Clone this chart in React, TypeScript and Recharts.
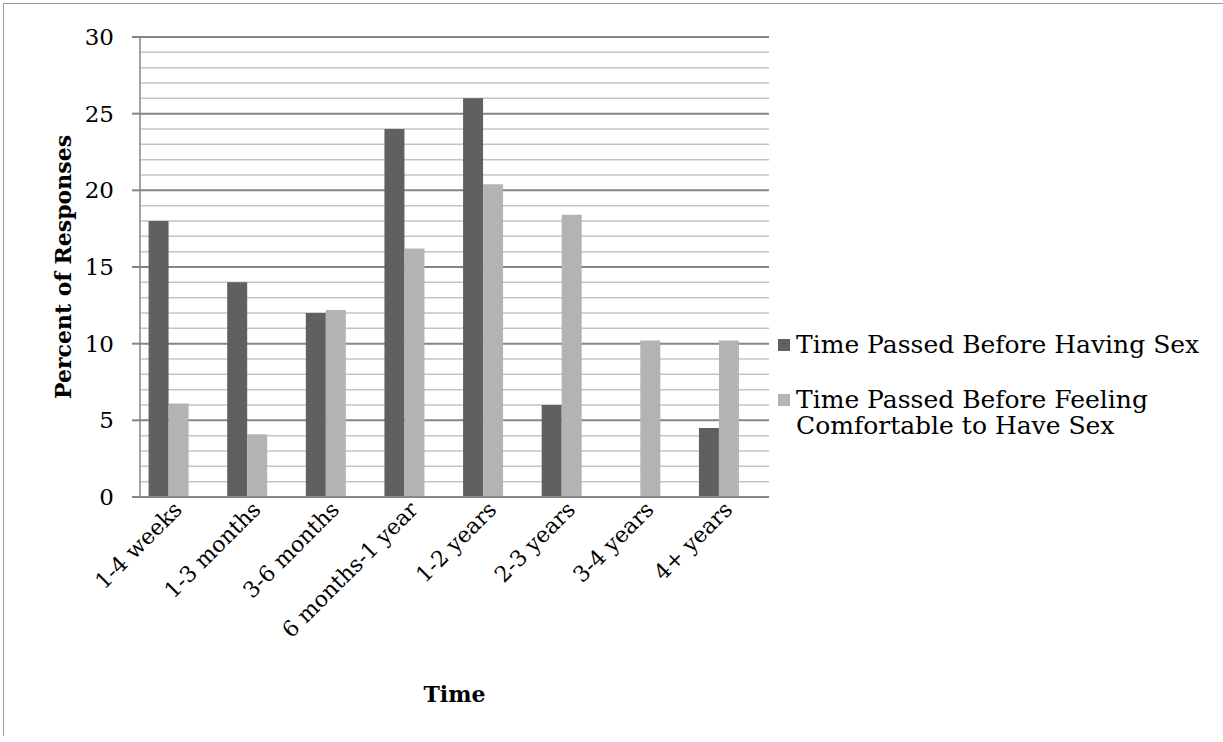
import { Bar, BarChart, CartesianGrid, Label, Legend, XAxis, YAxis } from "recharts";

const categories = [
  "1-4 weeks",
  "1-3 months",
  "3-6 months",
  "6 months-1 year",
  "1-2 years",
  "2-3 years",
  "3-4 years",
  "4+ years",
];
const havingSex = [18, 14, 12, 24, 26, 6, 0, 4.5];
const comfortable = [6.1, 4.1, 12.2, 16.2, 20.4, 18.4, 10.2, 10.2];
const majorTicks = [0, 5, 10, 15, 20, 25, 30];
const minorTicks = [
  1, 2, 3, 4, 6, 7, 8, 9, 11, 12, 13, 14, 16, 17, 18, 19, 21, 22, 23, 24, 26,
  27, 28, 29,
];
const yMax = 30;

const seriesNames = [
  "Time Passed Before Having Sex",
  "Time Passed Before Feeling Comfortable to Have Sex",
];
const colors = ["#606060", "#b3b3b3"];

const data = categories.map((name, i) => ({
  name,
  having: havingSex[i],
  comfortable: comfortable[i],
}));

const font = "'DejaVu Serif', serif";

const CategoryTick = (props: any) => {
  const { x, y, payload } = props;
  return (
    <g transform={`translate(${x + 4},${y + 14}) rotate(-45)`}>
      <text x={0} y={0} textAnchor="end" fontSize={22} fontFamily={font} fill="#000">
        {payload.value}
      </text>
    </g>
  );
};

const renderLegend = () => (
  <div style={{ fontFamily: font, fontSize: 25, lineHeight: "26px", color: "#000" }}>
    {seriesNames.map((name, i) => (
      <div key={name} style={{ display: "flex", marginBottom: 29 }}>
        <div
          style={{
            width: 12,
            height: 12,
            marginTop: 7,
            marginRight: 6,
            backgroundColor: colors[i],
            flexShrink: 0,
          }}
        />
        <div style={{ width: 420 }}>{name}</div>
      </div>
    ))}
  </div>
);

const YTitle = (props: any) => {
  const { viewBox } = props;
  const cx = viewBox.x + 71;
  const cy = viewBox.y + viewBox.height / 2;
  return (
    <text
      x={cx}
      y={cy}
      transform={`rotate(-90, ${cx}, ${cy})`}
      textAnchor="middle"
      fontSize={22}
      fontWeight="bold"
      fontFamily={font}
      fill="#000"
    >
      Percent of Responses
    </text>
  );
};

// minor gridlines every 1 unit (linear 0..yMax over the plot height)
const minorLines = ({ yAxis, offset }: any) => {
  if (yAxis && typeof yAxis.scale === "function") {
    return minorTicks.map((v) => yAxis.scale(v));
  }
  return minorTicks.map((v) => offset.top + offset.height * (1 - v / yMax));
};

export default function App() {
  return (
    <div style={{ position: "absolute", left: 0, top: 0, width: 1223, height: 742, background: "#fff" }}>
      <div
        style={{
          position: "absolute",
          left: 3,
          top: 3,
          width: 1220,
          height: 732,
          borderTop: "1px solid #9a9a9a",
          borderLeft: "1px solid #9a9a9a",
        }}
      />
      <BarChart
        width={1223}
        height={742}
        data={data}
        margin={{ top: 37, right: 454, left: 0, bottom: 0 }}
        barCategoryGap="10.9%"
        barGap={0}
      >
        <CartesianGrid
          vertical={false}
          stroke="#c4c4c4"
          strokeWidth={1.5}
          horizontalCoordinatesGenerator={minorLines}
        />
        <CartesianGrid vertical={false} stroke="#858585" strokeWidth={2} />
        <XAxis
          dataKey="name"
          interval={0}
          height={245}
          tickLine={false}
          tickSize={0}
          tickMargin={0}
          axisLine={{ stroke: "#858585", strokeWidth: 2 }}
          tick={<CategoryTick />}
        >
          <Label
            value="Time"
            position="insideBottom"
            offset={40}
            style={{ fontFamily: font, fontSize: 22, fontWeight: "bold", fill: "#000" }}
          />
        </XAxis>
        <YAxis
          width={140}
          domain={[0, yMax]}
          ticks={majorTicks}
          interval={0}
          tickSize={8}
          tickMargin={18}
          axisLine={{ stroke: "#858585", strokeWidth: 1.5 }}
          tickLine={{ stroke: "#858585", strokeWidth: 2 }}
          tick={{ fontFamily: font, fontSize: 23, fill: "#000" }}
        >
          <Label content={<YTitle />} />
        </YAxis>
        <Legend
          verticalAlign="middle"
          content={renderLegend}
          wrapperStyle={{ left: 778, top: 332, width: 445, height: "auto" }}
        />
        <Bar dataKey="having" name={seriesNames[0]} fill={colors[0]} isAnimationActive={false} />
        <Bar dataKey="comfortable" name={seriesNames[1]} fill={colors[1]} isAnimationActive={false} />
        <Bar dataKey="spare" legendType="none" fill="none" isAnimationActive={false} />
      </BarChart>
    </div>
  );
}
